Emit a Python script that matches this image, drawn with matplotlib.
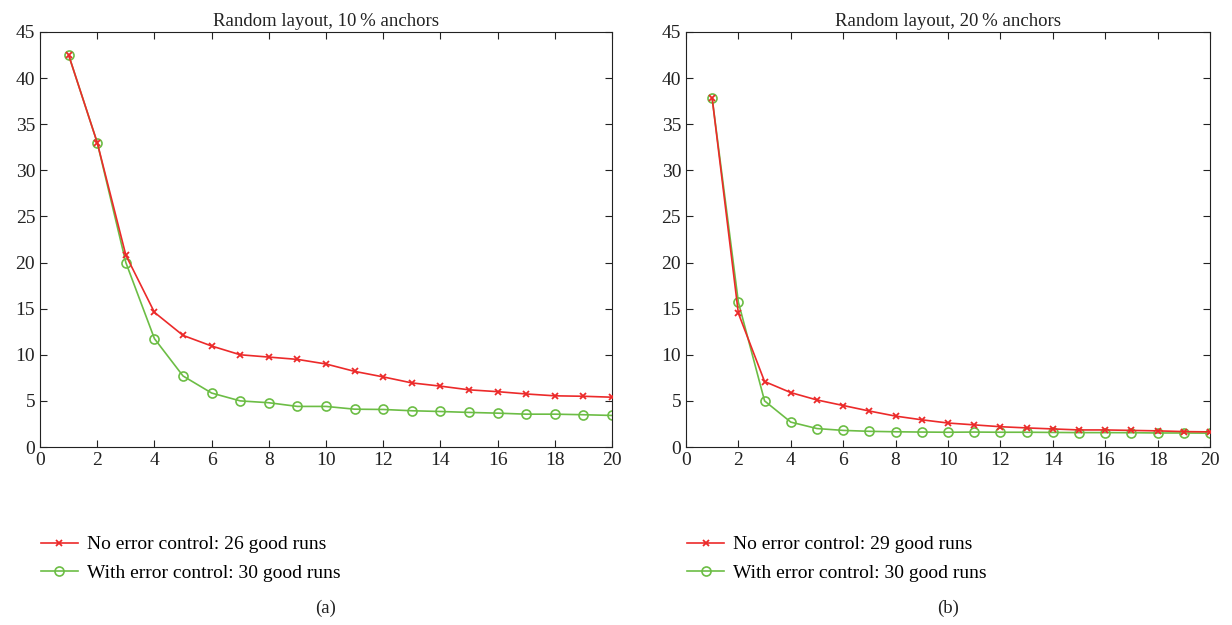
import numpy as np
import matplotlib
matplotlib.use("Agg")
import matplotlib.pyplot as plt

plt.rcParams['font.family'] = ['Liberation Serif', 'DejaVu Serif']
plt.rcParams['font.size'] = 13

# iteration index
steps = np.arange(1, 21)

# (a) random layout, 10 % anchors
a_no_ctrl = [42.5, 33.0, 20.8, 14.6, 12.1, 10.95, 10.0, 9.75, 9.5, 9.0,
             8.2, 7.6, 6.95, 6.6, 6.2, 6.0, 5.75, 5.55, 5.5, 5.4]
a_with_ctrl = [42.5, 33.0, 20.0, 11.75, 7.7, 5.85, 5.0, 4.8, 4.4, 4.4,
               4.1, 4.07, 3.93, 3.85, 3.75, 3.67, 3.56, 3.56, 3.5, 3.42]

# (b) random layout, 20 % anchors
b_no_ctrl = [37.8, 14.5, 7.1, 5.9, 5.1, 4.5, 3.9, 3.35, 2.95, 2.6,
             2.4, 2.2, 2.07, 1.96, 1.85, 1.85, 1.8, 1.75, 1.67, 1.64]
b_with_ctrl = [37.8, 15.7, 5.0, 2.7, 2.0, 1.8, 1.7, 1.65, 1.62, 1.6,
               1.62, 1.6, 1.6, 1.58, 1.56, 1.56, 1.55, 1.52, 1.52, 1.5]

panels = [
  ("Random layout, 10\u2009% anchors", a_no_ctrl, a_with_ctrl, 26, "(a)"),
  ("Random layout, 20\u2009% anchors", b_no_ctrl, b_with_ctrl, 29, "(b)"),
]

red = "#ec2a2a"
green = "#6cbd45"

fig = plt.figure(figsize=(12.32, 6.25), dpi=100)
boxes = [[0.0325, 0.2848, 0.4643, 0.664], [0.5568, 0.2848, 0.4253, 0.664]]

for box, (title, no_ctrl, with_ctrl, n_good, tag) in zip(boxes, panels):
  ax = fig.add_axes(box)
  ax.plot(steps, no_ctrl, color=red, lw=1.2, marker='x', ms=4.5, mew=1.3,
          label="No error control: %d good runs" % n_good, zorder=3)
  ax.plot(steps, with_ctrl, color=green, lw=1.2, marker='o', ms=6.5,
          mfc='none', mew=1.2, label="With error control: 30 good runs", zorder=2)
  ax.set_xlim(0, 20)
  ax.set_ylim(0, 45)
  ax.set_xticks(np.arange(0, 21, 2))
  ax.set_yticks(np.arange(0, 46, 5))
  ax.tick_params(direction='in', top=True, right=True, length=5,
                 labelsize=14, colors='#222222')
  for s in ax.spines.values():
    s.set_color('#222222')
  ax.set_title(title, fontsize=13.5, pad=4, color='#222222')
  ax.legend(loc='upper left', bbox_to_anchor=(-0.012, -0.195), frameon=False,
            handlelength=1.9, handletextpad=0.45, labelspacing=0.55,
            fontsize=14, borderaxespad=0)
  fig.text(box[0] + box[2] / 2, 0.026, tag, ha='center', va='center',
           fontsize=13.5, color='#222222')

plt.savefig("out.png", dpi=100)
